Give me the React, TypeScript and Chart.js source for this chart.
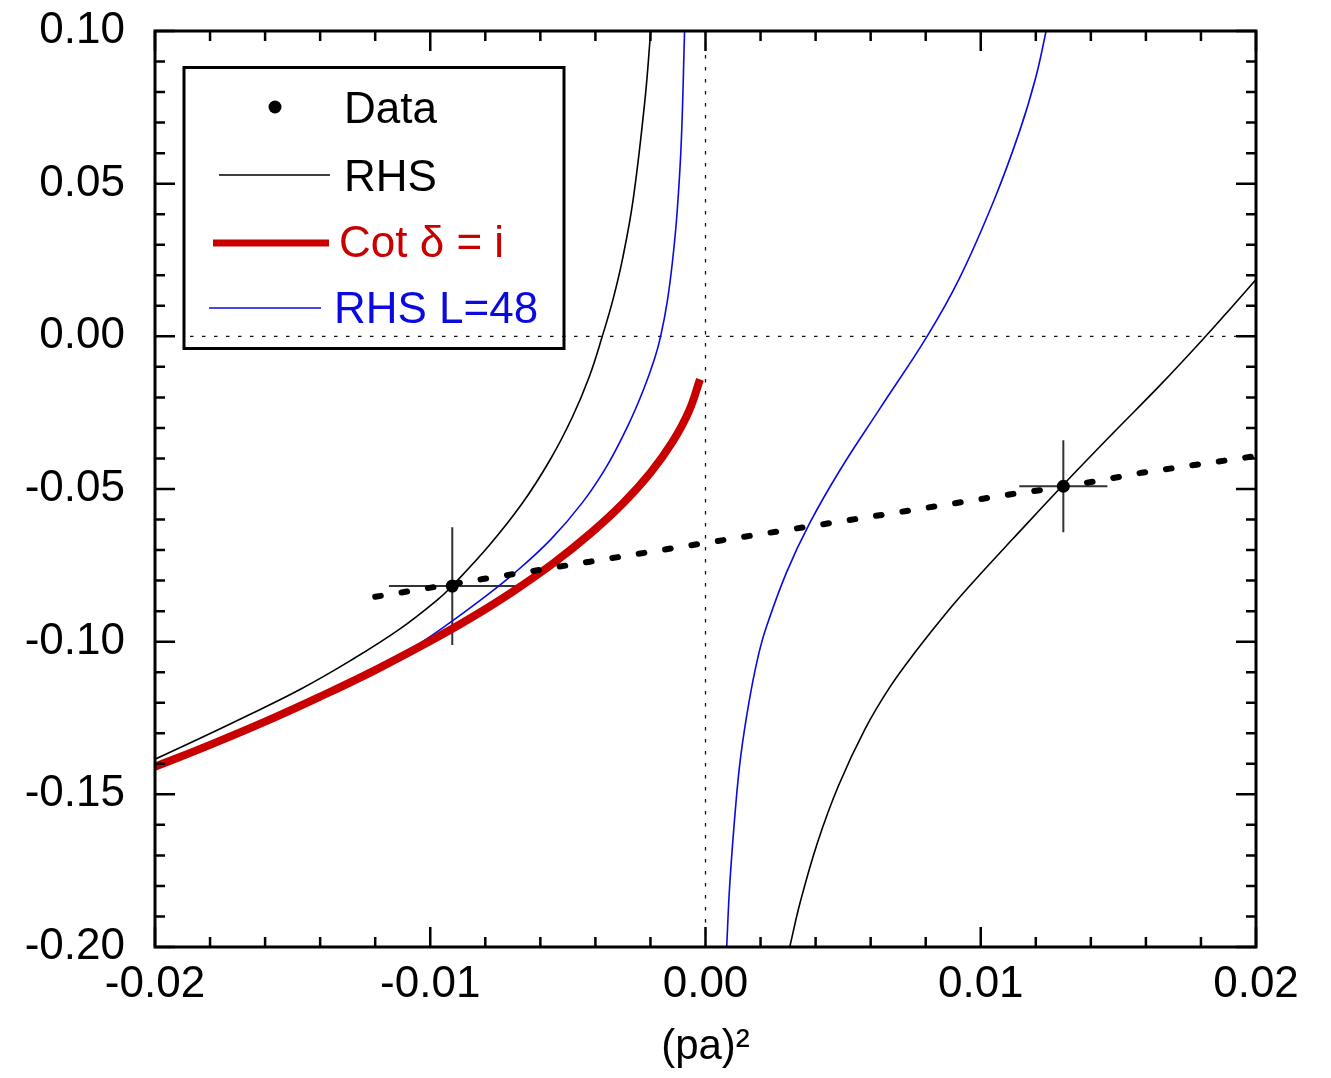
import React, { useEffect, useRef } from "react";
import { Chart, registerables } from "chart.js";
Chart.register(...registerables);

// ---------- data ----------
const rhsLeftX = [-0.0200, -0.0184, -0.0165, -0.0147, -0.0129, -0.0111, -0.0097, -0.0092, -0.00787, -0.00665, -0.00565, -0.00484, -0.00423, -0.00375, -0.00336, -0.00302, -0.00263, -0.00220, -0.00199];
const rhsLeftY = [-0.1385, -0.1318, -0.1236, -0.1155, -0.1062, -0.0958, -0.0860, -0.0817, -0.0686, -0.0546, -0.0405, -0.0265, -0.0134, 0.0000, 0.0121, 0.0251, 0.0447, 0.0774, 0.1000];

const rhsRightX = [0.00306, 0.003445, 0.004076, 0.004835, 0.005804, 0.006697, 0.007612, 0.008867, 0.009931, 0.011158, 0.012958, 0.014762, 0.016570, 0.018171, 0.019140, 0.020000];
const rhsRightY = [-0.2000, -0.1852, -0.1656, -0.1471, -0.1285, -0.1149, -0.1035, -0.0893, -0.0784, -0.0664, -0.0490, -0.0321, -0.0155, 0.0000, 0.0098, 0.0186];

const l48LeftX = [-0.0200, -0.0180, -0.0160, -0.0140, -0.0120, -0.0105, -0.00960, -0.00809, -0.00690, -0.00561, -0.00446, -0.00359, -0.00283, -0.00225, -0.00186, -0.00163, -0.00139, -0.00120, -0.00103, -0.00088, -0.00076];
const l48LeftY = [-0.1405, -0.1333, -0.1257, -0.1175, -0.1088, -0.1012, -0.0958, -0.0858, -0.0772, -0.0664, -0.0543, -0.0426, -0.0295, -0.0174, -0.0076, 0.0000, 0.0114, 0.0245, 0.0408, 0.0637, 0.1000];

const l48RightX = [0.00077, 0.00088, 0.00109, 0.00128, 0.00158, 0.00189, 0.00219, 0.00294, 0.00379, 0.00490, 0.00634, 0.00805, 0.00922, 0.01050, 0.01143, 0.01201, 0.01238];
const l48RightY = [-0.2000, -0.1797, -0.1545, -0.1375, -0.1198, -0.1057, -0.0958, -0.0774, -0.0611, -0.0436, -0.0236, 0.0000, 0.0189, 0.0450, 0.0677, 0.0852, 0.1002];

const cotX = [-0.0200, -0.0180, -0.0160, -0.0140, -0.0120, -0.0100, -0.0085, -0.0070, -0.0055, -0.0042, -0.0030, -0.0020, -0.0012, -0.0006, -0.0002];
const cotY = [-0.1410, -0.1338, -0.1262, -0.1180, -0.1093, -0.0998, -0.0921, -0.0836, -0.0741, -0.0647, -0.0547, -0.0447, -0.0346, -0.0245, -0.0141];

const fitX = [-0.0120, -0.0081, -0.0042, -0.0003, 0.0036, 0.0073, 0.0111, 0.0131, 0.0159, 0.0200];
const fitY = [-0.0853, -0.0795, -0.0738, -0.0681, -0.0625, -0.0572, -0.0517, -0.0492, -0.0446, -0.0392];

const dataX = [-0.0092, 0.0130];
const dataY = [-0.0818, -0.0491];
const dataXErr = [0.0023, 0.0016];
const dataYErr = [0.0193, 0.0151];

const xTickValues = [-0.02, -0.01, 0, 0.01, 0.02];
const xTickLabels = ["-0.02", "-0.01", "0.00", "0.01", "0.02"];
const yTickValues = [-0.2, -0.15, -0.1, -0.05, 0, 0.05, 0.1];
const yTickLabels = ["-0.20", "-0.15", "-0.10", "-0.05", "0.00", "0.05", "0.10"];
const xMinorPerMajor = 5;
const yMinorPerMajor = 5;

const legendLabels = ["Data", "RHS", "Cot \u03b4 = i", "RHS L=48"];

const RED = "#c80000";
const BLUE = "#0a0ae0";
const FONT = "'Liberation Sans', Arial, Helvetica, sans-serif";

const pts = (xs: number[], ys: number[]) => xs.map((x, i) => ({ x, y: ys[i] }));

const plotPlugin = {
  id: "plotDecor",
  beforeDatasetsDraw(chart: any) {
    const { ctx, chartArea: a, scales } = chart;
    const xs = scales.x, ys = scales.y;
    ctx.save();
    ctx.setLineDash([3.5, 8.5]);
    ctx.lineWidth = 1.3;
    ctx.strokeStyle = "#111";
    const x0 = xs.getPixelForValue(0);
    const y0 = ys.getPixelForValue(0);
    ctx.beginPath();
    ctx.moveTo(x0, a.top);
    ctx.lineTo(x0, a.bottom);
    ctx.moveTo(a.left + 35, y0);
    ctx.lineTo(a.right, y0);
    ctx.stroke();
    ctx.setLineDash([]);
    ctx.strokeStyle = "#333";
    ctx.lineWidth = 2;
    for (let i = 0; i < dataX.length; i++) {
      const cx = xs.getPixelForValue(dataX[i]);
      const cy = ys.getPixelForValue(dataY[i]);
      ctx.beginPath();
      ctx.moveTo(xs.getPixelForValue(dataX[i] - dataXErr[i]), cy);
      ctx.lineTo(xs.getPixelForValue(dataX[i] + dataXErr[i]), cy);
      ctx.moveTo(cx, ys.getPixelForValue(dataY[i] - dataYErr[i]));
      ctx.lineTo(cx, ys.getPixelForValue(dataY[i] + dataYErr[i]));
      ctx.stroke();
    }
    ctx.restore();
  },
  afterDatasetsDraw(chart: any) {
    const { ctx, chartArea: a, scales } = chart;
    const xs = scales.x, ys = scales.y;
    ctx.save();
    ctx.strokeStyle = "#000";
    ctx.lineWidth = 2.5;
    ctx.lineCap = "butt";
    for (let k = 0; k < xTickValues.length; k++) {
      for (let m = 0; m < xMinorPerMajor; m++) {
        if (k === xTickValues.length - 1 && m > 0) break;
        const v = xTickValues[k] + (m * (xTickValues[1] - xTickValues[0])) / xMinorPerMajor;
        const p = xs.getPixelForValue(v);
        const len = m === 0 ? 20 : 10;
        ctx.beginPath();
        ctx.moveTo(p, a.bottom);
        ctx.lineTo(p, a.bottom - len);
        ctx.moveTo(p, a.top);
        ctx.lineTo(p, a.top + len);
        ctx.stroke();
      }
    }
    for (let k = 0; k < yTickValues.length; k++) {
      for (let m = 0; m < yMinorPerMajor; m++) {
        if (k === yTickValues.length - 1 && m > 0) break;
        const v = yTickValues[k] + (m * (yTickValues[1] - yTickValues[0])) / yMinorPerMajor;
        const p = ys.getPixelForValue(v);
        const len = m === 0 ? 20 : 10;
        ctx.beginPath();
        ctx.moveTo(a.left, p);
        ctx.lineTo(a.left + len, p);
        ctx.moveTo(a.right, p);
        ctx.lineTo(a.right - len, p);
        ctx.stroke();
      }
    }
    ctx.lineWidth = 3;
    ctx.strokeRect(a.left, a.top, a.right - a.left, a.bottom - a.top);
    ctx.restore();
  },
  afterDraw(chart: any) {
    const { ctx } = chart;
    ctx.save();
    ctx.strokeStyle = "#000";
    ctx.lineWidth = 3;
    ctx.strokeRect(184, 67.5, 380, 281);
    ctx.font = `44px ${FONT}`;
    ctx.textBaseline = "alphabetic";
    ctx.textAlign = "left";
    ctx.fillStyle = "#000";
    ctx.beginPath();
    ctx.arc(275, 107, 6.5, 0, Math.PI * 2);
    ctx.fill();
    ctx.fillText(legendLabels[0], 344, 122.5);
    ctx.lineWidth = 1.6;
    ctx.beginPath();
    ctx.moveTo(219, 175);
    ctx.lineTo(330, 175);
    ctx.stroke();
    ctx.fillText(legendLabels[1], 344, 190.5);
    ctx.strokeStyle = RED;
    ctx.fillStyle = RED;
    ctx.lineWidth = 7;
    ctx.beginPath();
    ctx.moveTo(213, 243);
    ctx.lineTo(329, 243);
    ctx.stroke();
    ctx.fillText(legendLabels[2], 339, 256.5);
    ctx.strokeStyle = BLUE;
    ctx.fillStyle = BLUE;
    ctx.lineWidth = 1.6;
    ctx.beginPath();
    ctx.moveTo(209, 308);
    ctx.lineTo(321, 308);
    ctx.stroke();
    ctx.fillText(legendLabels[3], 334, 322.5);
    ctx.restore();
  },
};

export default function App() {
  const ref = useRef<HTMLCanvasElement>(null);
  useEffect(() => {
    const line = (data: any[], color: string, width: number, order: number, extra: any = {}) => ({
      data,
      showLine: true,
      borderColor: color,
      backgroundColor: color,
      borderWidth: width,
      pointRadius: 0,
      tension: 0.4,
      fill: false,
      order,
      ...extra,
    });
    const chart = new Chart(ref.current!, {
      type: "scatter",
      data: {
        datasets: [
          {
            label: "Data",
            data: pts(dataX, dataY),
            pointRadius: 6.5,
            pointBackgroundColor: "#000",
            pointBorderWidth: 0,
            showLine: false,
            order: 0,
          } as any,
          line(pts(fitX, fitY), "#000", 6, 1, {
            borderDash: [5.7, 21],
            borderCapStyle: "round",
            tension: 0,
          }),
          line(pts(rhsLeftX, rhsLeftY), "#000", 1.6, 2),
          line(pts(rhsRightX, rhsRightY), "#000", 1.6, 2),
          line(pts(cotX, cotY), RED, 8, 3),
          line(pts(l48LeftX, l48LeftY), BLUE, 1.6, 4),
          line(pts(l48RightX, l48RightY), BLUE, 1.6, 4),
        ],
      },
      options: {
        animation: false,
        responsive: false,
        devicePixelRatio: 1,
        events: [],
        layout: { padding: { left: 0, top: 31, right: 75, bottom: 0 } },
        plugins: { legend: { display: false }, tooltip: { enabled: false } },
        scales: {
          x: {
            type: "linear",
            min: -0.02,
            max: 0.02,
            afterBuildTicks: (s: any) => {
              s.ticks = xTickValues.map((v) => ({ value: v }));
            },
            afterFit: (s: any) => {
              s.height = 131;
              s.paddingLeft = 0;
              s.paddingRight = 0;
            },
            grid: { display: false, drawTicks: false },
            border: { display: false },
            ticks: {
              color: "#000",
              padding: 11,
              maxRotation: 0,
              autoSkip: false,
              font: { family: FONT, size: 44 },
              callback: (_v: any, i: number) => xTickLabels[i],
            },
            title: {
              display: true,
              text: "(pa)\u00b2",
              color: "#000",
              font: { family: FONT, size: 42 },
              padding: { top: 0, bottom: 5 },
            },
          },
          y: {
            type: "linear",
            min: -0.2,
            max: 0.1,
            afterBuildTicks: (s: any) => {
              s.ticks = yTickValues.map((v) => ({ value: v }));
            },
            afterFit: (s: any) => {
              s.width = 155;
              s.paddingTop = 0;
              s.paddingBottom = 0;
            },
            grid: { display: false, drawTicks: false },
            border: { display: false },
            ticks: {
              color: "#000",
              padding: 30,
              autoSkip: false,
              font: { family: FONT, size: 44 },
              callback: (_v: any, i: number) => yTickLabels[i],
            },
          },
        },
      },
      plugins: [plotPlugin],
    } as any);
    return () => chart.destroy();
  }, []);
  return (
    <div style={{ position: "fixed", left: 0, top: 0, width: 1331, height: 1078, background: "#fff" }}>
      <canvas ref={ref} width={1331} height={1078} style={{ display: "block", width: 1331, height: 1078 }} />
    </div>
  );
}
